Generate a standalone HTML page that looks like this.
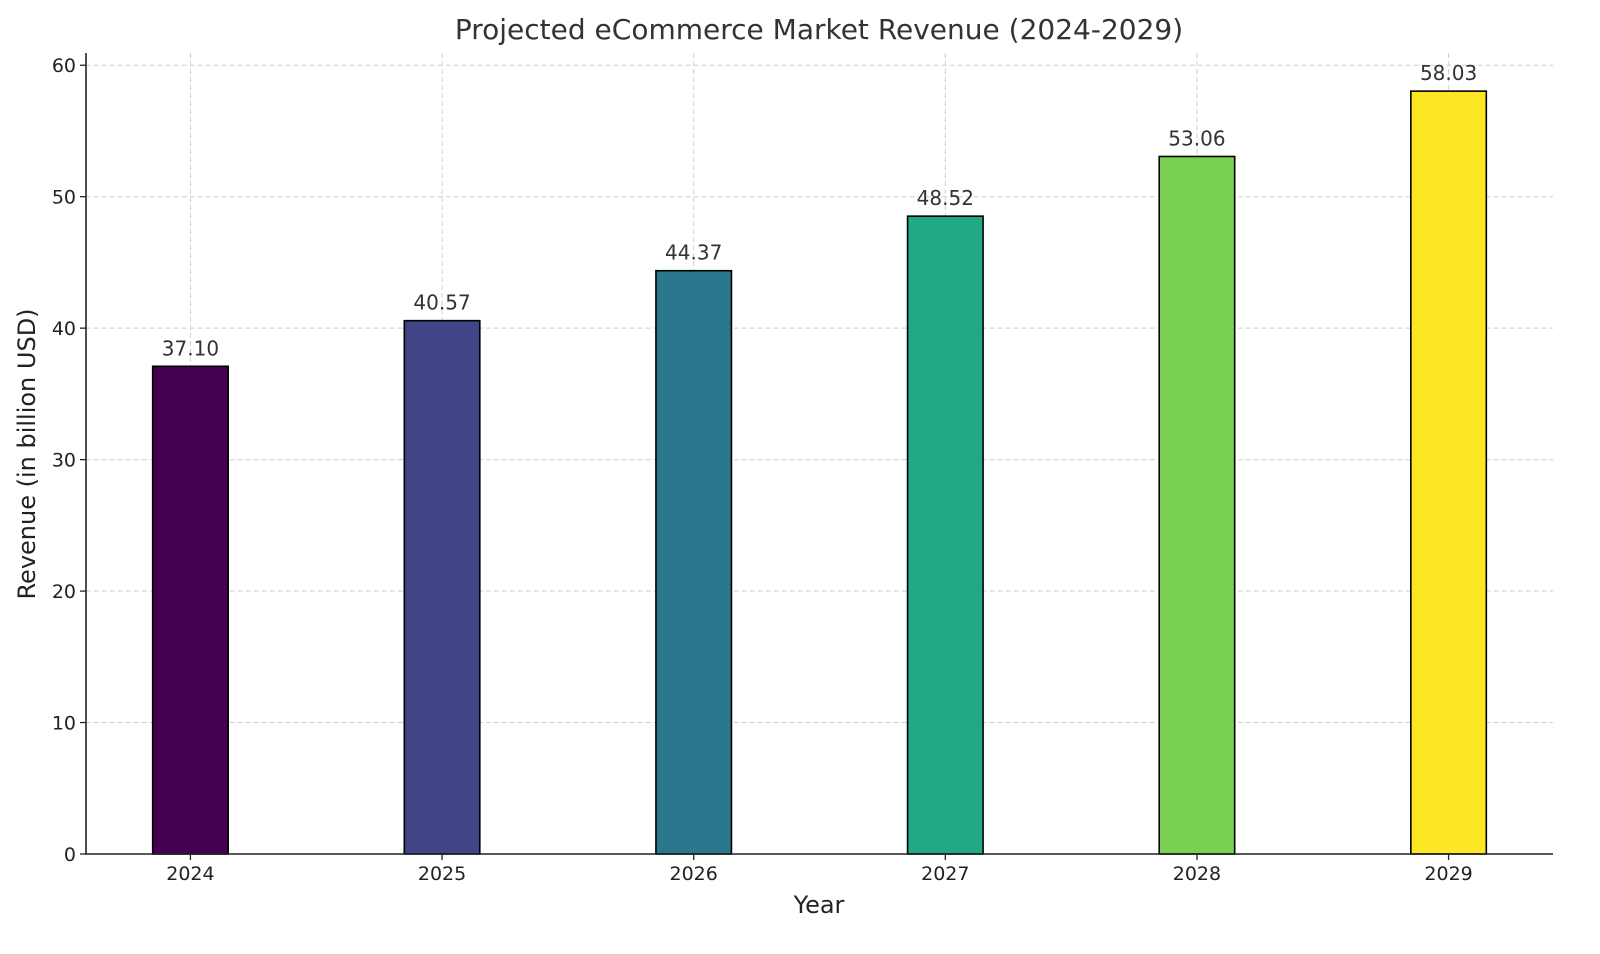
<!DOCTYPE html>
<html><head><meta charset="utf-8"><style>
html,body{margin:0;padding:0;background:#fff;}
svg{display:block;font-family:"DejaVu Sans","Liberation Sans",sans-serif;}
</style></head><body>
<svg id="chart" width="1600" height="954" viewBox="0 0 1600 954" xmlns="http://www.w3.org/2000/svg">
<rect width="1600" height="954" fill="#fff"/>
<g id="grid"></g>
<g id="bars"></g>
<g id="labels"></g>
<g id="axes"></g>
<text x="819" y="39" text-anchor="middle" font-size="28" fill="#333">Projected eCommerce Market Revenue (2024-2029)</text>
<text x="819" y="913" text-anchor="middle" font-size="24" fill="#222">Year</text>
<text transform="translate(35,454) rotate(-90)" text-anchor="middle" font-size="24" fill="#222">Revenue (in billion USD)</text>
</svg>
<script>
const categories = ["2024","2025","2026","2027","2028","2029"];
const revenue = [37.10, 40.57, 44.37, 48.52, 53.06, 58.03];
const valueLabels = ["37.10","40.57","44.37","48.52","53.06","58.03"];
const yTicks = [0,10,20,30,40,50,60];
const barColors = ["#440154","#414487","#2a788e","#22a884","#7ad151","#fde725"];

const NS="http://www.w3.org/2000/svg";
const L=86,R=1553,B=854,T=53;
const xMin=-0.415,xMax=categories.length-1+0.415;
const yMax=Math.max(...revenue)*1.05;
const xs=i=>L+(i-xMin)/(xMax-xMin)*(R-L);
const ys=v=>B-v/yMax*(B-T);
const bw=0.3*(R-L)/(xMax-xMin);
function el(tag,attrs,parent){const e=document.createElementNS(NS,tag);for(const k in attrs)e.setAttribute(k,attrs[k]);document.getElementById(parent).appendChild(e);return e;}
yTicks.forEach(t=>{
  const g=el("line",{x1:L,x2:R,y1:ys(t),y2:ys(t),stroke:"#d0d0d0","stroke-dasharray":"5,3","stroke-width":1},"grid");
  
  
  const tk=el("line",{x1:L-6,x2:L,y1:ys(t),y2:ys(t),stroke:"#222","stroke-width":1.3},"axes");
  
  
  const tl=el("text",{x:L-10,y:ys(t)+7,"text-anchor":"end","font-size":19,fill:"#222"},"axes");
  tl.textContent=t;
  
  
});
categories.forEach((c,i)=>{
  const x=xs(i);
  const g=el("line",{x1:x,x2:x,y1:T,y2:B,stroke:"#d0d0d0","stroke-dasharray":"5,3","stroke-width":1},"grid");
  
  
  const b=el("rect",{x:x-bw/2,y:ys(revenue[i]),width:bw,height:B-ys(revenue[i]),fill:barColors[i],stroke:"#000","stroke-width":1.6},"bars");
  
  
  const v=el("text",{x:x,y:ys(revenue[i])-11,"text-anchor":"middle","font-size":20,fill:"#333"},"labels");
  v.textContent=valueLabels[i];
  
  
  const tk=el("line",{x1:x,x2:x,y1:B,y2:B+6,stroke:"#222","stroke-width":1.3},"axes");
  
  
  const tl=el("text",{x:x,y:B+26,"text-anchor":"middle","font-size":19,fill:"#222"},"axes");
  tl.textContent=c;
  
  
});
const ax=el("path",{d:`M${L},${T} V${B} H${R}`,fill:"none",stroke:"#222","stroke-width":1.6},"axes");


</script>
</body></html>
